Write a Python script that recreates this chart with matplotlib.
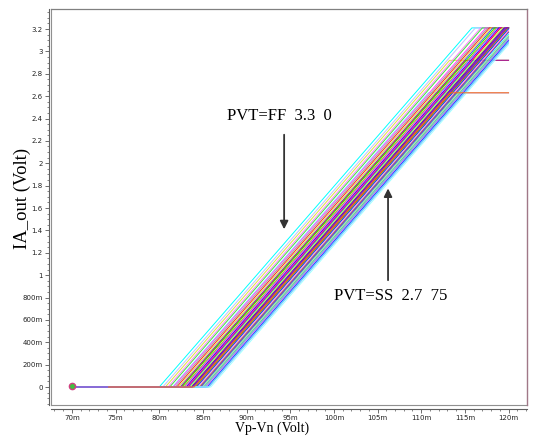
import matplotlib
matplotlib.use("Agg")
import matplotlib.pyplot as plt
from matplotlib.ticker import MultipleLocator, FixedLocator

# ---- data (x in mV, y in V) ----
# each trace: flat at 0 from START_MV to ONSET_MV, linear rise to (TOP_MV, TOP_V), flat to 120m
START_MV = [70.0] * 45 + [74.2]
ONSET_MV = [80.0, 80.4, 80.7, 81.0, 81.2, 81.5, 81.6, 81.8, 82.0, 82.2,
            82.4, 82.5, 82.6, 82.8, 82.9, 83.0, 83.1, 83.2, 83.3, 83.4,
            83.5, 83.6, 83.7, 83.8, 83.9, 84.0, 84.1, 84.2, 84.3, 84.4,
            84.5, 84.6, 84.7, 84.8, 84.9, 85.0, 85.1, 85.2, 85.3, 85.4,
            85.5, 85.6, 85.7, 85.9, 83.8, 84.0]
TOP_MV = [115.8, 116.2, 113.25, 116.8, 117.0, 110.8, 117.4, 117.6, 117.8, 118.0,
          118.2, 115.05, 118.4, 118.6, 118.7, 112.3, 118.9, 119.0, 119.1, 115.95,
          119.3, 119.4, 119.5, 119.6, 119.7, 119.8, 119.9, 120.0, 120.0, 120.0,
          113.8, 120.0, 120.0, 117.35, 120.0, 120.0, 120.0, 120.0, 120.0, 120.0,
          120.0, 120.0, 120.0, 120.0, 119.6, 113.3]
TOP_V = [3.21, 3.21, 2.92, 3.21, 3.21, 2.63, 3.21, 3.21, 3.21, 3.21,
         3.21, 2.92, 3.21, 3.21, 3.21, 2.63, 3.21, 3.21, 3.21, 2.92,
         3.21, 3.21, 3.21, 3.21, 3.21, 3.21, 3.21, 3.21, 3.20, 3.19,
         2.63, 3.175, 3.17, 2.92, 3.15, 3.14, 3.13, 3.12, 3.11, 3.10,
         3.095, 3.085, 3.075, 3.06, 3.21, 2.63]
END_MV = 120.0

COLORS = ['#00ffff', '#c0c0ff', '#e0e040', '#ff80ff', '#40e040', '#80ffff', '#ff40ff', '#a0a0a0',
          '#ff2020', '#e0e040', '#4040ff', '#ff2020', '#00ff00', '#ff8000', '#8080ff', '#ff80c0',
          '#0000ff', '#ff00ff', '#ff2020', '#2060ff', '#80ff80', '#ffff00', '#0000ff', '#ff40a0',
          '#00c0c0', '#8000ff', '#ff0000', '#40ff40', '#0000ff', '#ff80ff', '#c0c0ff', '#ff8000',
          '#4040ff', '#c02080', '#00ffff', '#ffff40', '#4080ff', '#80ff80', '#8080ff', '#ff80ff',
          '#2020ff', '#40e0ff', '#80c0ff', '#a0ffff', '#9000b0', '#ff7010']

Y_TICKS = [0, 0.2, 0.4, 0.6, 0.8, 1.0, 1.2, 1.4, 1.6, 1.8, 2.0, 2.2, 2.4, 2.6, 2.8, 3.0, 3.2]
Y_LABELS = ['0', '200m', '400m', '600m', '800m', '1', '1.2', '1.4', '1.6', '1.8',
            '2', '2.2', '2.4', '2.6', '2.8', '3', '3.2']
X_TICKS = [70, 75, 80, 85, 90, 95, 100, 105, 110, 115, 120]
X_LABELS = ['70m', '75m', '80m', '85m', '90m', '95m', '100m', '105m', '110m', '115m', '120m']

# ---- figure ----
fig = plt.figure(figsize=(5.36, 4.37), dpi=100)
ax = fig.add_axes([0.0951, 0.0732, 0.8879, 0.9062])

for i in range(len(ONSET_MV)):
    xs = [START_MV[i], ONSET_MV[i], TOP_MV[i], END_MV]
    ys = [0, 0, TOP_V[i], TOP_V[i]]
    ax.plot(xs, ys, color=COLORS[i], lw=0.7, solid_joinstyle='miter')

# start markers at 70m
ax.plot([70], [0.005], 'o', ms=4.5, mfc='#40c040', mec='#d04080', mew=1.0)

ax.set_xlim(67.6, 122.1)
ax.set_ylim(-0.161, 3.379)

ax.xaxis.set_major_locator(FixedLocator(X_TICKS))
ax.set_xticklabels(X_LABELS)
ax.xaxis.set_minor_locator(MultipleLocator(1))
ax.yaxis.set_major_locator(FixedLocator(Y_TICKS))
ax.set_yticklabels(Y_LABELS)
ax.yaxis.set_minor_locator(MultipleLocator(0.05))

ax.tick_params(which='major', length=3, width=0.6, color='#555555',
               labelsize=5, labelcolor='#222222', pad=1.5)
ax.tick_params(which='minor', length=1.5, width=0.5, color='#555555')
for lab in ax.get_xticklabels() + ax.get_yticklabels():
    lab.set_fontweight('bold')
    lab.set_family('Liberation Sans')

# axis lines offset from the frame
ax.spines['left'].set_position(('outward', 1.5))
ax.spines['bottom'].set_position(('outward', 3))
for s in ('left', 'bottom'):
    ax.spines[s].set_color('#606060')
    ax.spines[s].set_linewidth(0.8)
ax.spines['top'].set_color('#808080')
ax.spines['top'].set_linewidth(0.9)
ax.spines['right'].set_color('#a07888')
ax.spines['right'].set_linewidth(1.0)
# inner frame
ax.plot([0, 1], [0, 0], transform=ax.transAxes, color='#909090', lw=0.8, clip_on=False)
ax.plot([0, 0], [0, 1], transform=ax.transAxes, color='#909090', lw=0.8, clip_on=False)

# axis titles placed where the reference has them
fig.text(272 / 536, 1 - 428 / 437, 'Vp-Vn (Volt)', family='Liberation Serif', fontsize=10,
         ha='center', va='center')
fig.text(22 / 536, 1 - 198 / 437, 'IA_out (Volt)', family='Liberation Serif', fontsize=13.5,
         ha='center', va='center', rotation=90)

# annotations
ax.text(87.8, 2.42, 'PVT=FF  3.3  0', family='Liberation Serif', fontsize=12,
        ha='left', va='center')
ax.annotate('', xy=(94.3, 1.385), xytext=(94.3, 2.28),
            arrowprops=dict(arrowstyle='-|>', color='#333333', lw=1.3, mutation_scale=12))
ax.text(100.0, 0.81, 'PVT=SS  2.7  75', family='Liberation Serif', fontsize=12,
        ha='left', va='center')
ax.annotate('', xy=(106.2, 1.80), xytext=(106.2, 0.93),
            arrowprops=dict(arrowstyle='-|>', color='#333333', lw=1.3, mutation_scale=12))

fig.savefig('out.png', dpi=100, facecolor='white')
